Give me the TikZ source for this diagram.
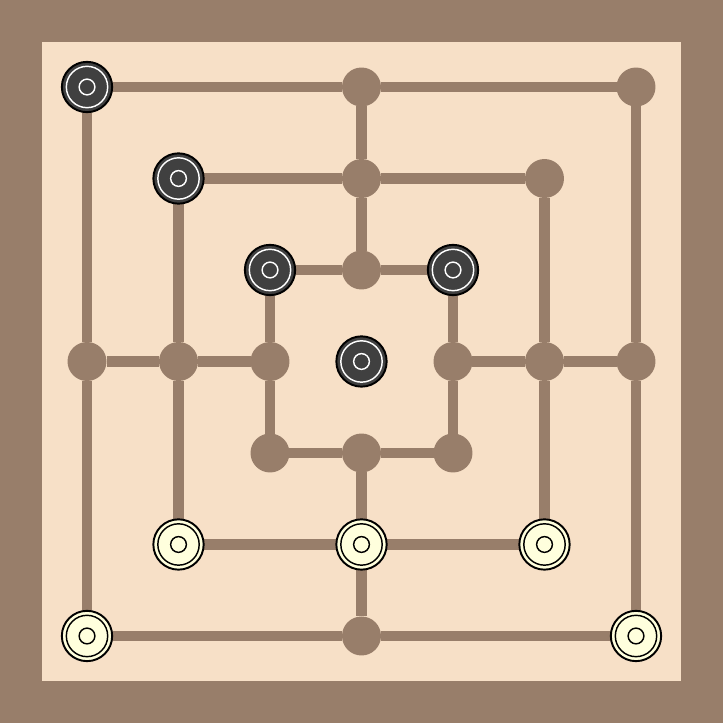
\documentclass[tikz,border=0pt]{standalone}
\usetikzlibrary{positioning}
\definecolor{boardbrown}{RGB}{152,126,106}
\definecolor{boardlight}{RGB}{247,224,199}
\definecolor{stonedark}{RGB}{64,64,64}
\definecolor{stonelight}{RGB}{255,255,221}

\tikzset{
  spot/.style = {circle, fill = boardbrown, inner sep = 0pt, outer sep = 0pt, minimum size = 0.426cm},
  stone/.style = {circle, draw = black, line width = 0.6pt, inner sep = 0pt, minimum size = 0.55cm,
    path picture = {\draw[#1, line width = 0.45pt] (path picture bounding box.center) circle (0.226cm) circle (0.086cm);}},
  darkstone/.style = {stone = white, fill = stonedark},
  lightstone/.style = {stone = black, fill = stonelight},
}

\begin{document}
\begin{tikzpicture}[line width = 3.4pt]

    % board
    \fill[boardbrown] (-3.951,-3.951) rectangle (3.951,3.951);
    \fill[boardlight] (-3.495,-3.495) rectangle (3.495,3.495);

    % points
    \foreach \n/\x/\y in {a7/-3/3, d7/0/3, g7/3/3,
                          b6/-2/2, d6/0/2, f6/2/2,
                          c5/-1/1, d5/0/1, e5/1/1,
                          a4/-3/0, b4/-2/0, c4/-1/0, e4/1/0, f4/2/0, g4/3/0,
                          c3/-1/-1, d3/0/-1, e3/1/-1,
                          b2/-2/-2, d2/0/-2, f2/2/-2,
                          a1/-3/-3, d1/0/-3, g1/3/-3}
        \node (\n) at (\x,\y) [spot] {};

    % lines
    \foreach \s/\t in {a7/d7, d7/g7, g7/g4, g4/g1, g1/d1, d1/a1, a1/a4, a4/a7,
                       b6/d6, d6/f6, f6/f4, f4/f2, f2/d2, d2/b2, b2/b4, b4/b6,
                       c5/d5, d5/e5, e5/e4, e4/e3, e3/d3, d3/c3, c3/c4, c4/c5,
                       d7/d6, d6/d5, d3/d2, d2/d1,
                       a4/b4, b4/c4, e4/f4, f4/g4}
        \draw[boardbrown] (\s) -- (\t);

    % stones
    \foreach \n in {a7, b6, c5, e5}
        \node (s-\n) at (\n) [darkstone] {};
    \node (s-mid) at (0,0) [darkstone] {};
    \foreach \n in {b2, d2, f2, a1, g1}
        \node (s-\n) at (\n) [lightstone] {};

\end{tikzpicture}
\end{document}
